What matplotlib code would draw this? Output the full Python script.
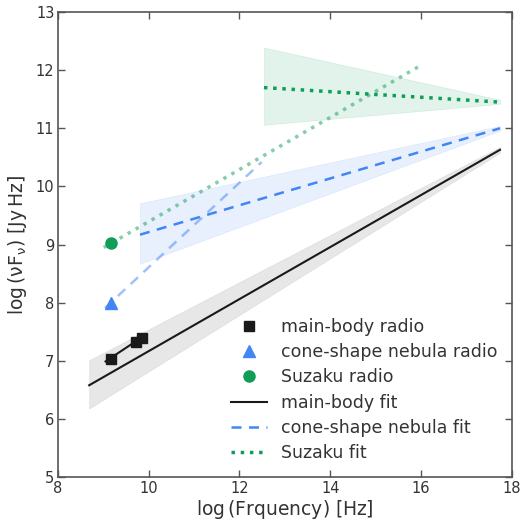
import matplotlib
matplotlib.use("Agg")
import matplotlib.pyplot as plt
import numpy as np

plt.rcParams['font.family'] = ['DejaVu Sans']
plt.rcParams['mathtext.default'] = 'regular'

# data
mb_x = [9.17, 9.72, 9.86]
mb_y = [7.04, 7.33, 7.40]
mb_seg_x = [9.05, 9.9]
mb_seg_y = [6.99, 7.43]

cn_x = [9.17]
cn_y = [8.0]
cn_seg_x = [9.04, 12.49]
cn_seg_y = [7.91, 10.42]

sz_x = [9.17]
sz_y = [9.02]
sz_seg_x = [9.01, 15.97]
sz_seg_y = [8.95, 12.07]

mb_fit_x = [8.69, 17.74]
mb_fit_y = [6.58, 10.63]
mb_band_lo = [6.18, 10.58]
mb_band_hi = [7.01, 10.68]

cn_fit_x = [9.81, 17.74]
cn_fit_y = [9.17, 11.0]
cn_band_lo = [8.67, 10.96]
cn_band_hi = [9.71, 11.04]

sz_fit_x = [12.54, 17.74]
sz_fit_y = [11.70, 11.45]
sz_band_lo = [11.06, 11.42]
sz_band_hi = [12.39, 11.49]

black = '#1a1a1a'
blue = '#4285F4'
green = '#0F9D58'
txt = '#333333'

fig = plt.figure(figsize=(5.26, 5.22), dpi=100)
ax = fig.add_axes([0.110, 0.086, 0.863, 0.891])

ax.fill_between(mb_fit_x, mb_band_lo, mb_band_hi, color='#bbbbbb', alpha=0.35, lw=0.5)
ax.fill_between(cn_fit_x, cn_band_lo, cn_band_hi, color=blue, alpha=0.12, lw=0.5)
ax.fill_between(sz_fit_x, sz_band_lo, sz_band_hi, color=green, alpha=0.12, lw=0.5)

ax.plot(cn_seg_x, cn_seg_y, ls='--', color=blue, alpha=0.5, lw=1.8, dashes=(4, 3))
ax.plot(sz_seg_x, sz_seg_y, ls=':', color=green, alpha=0.5, lw=2.5)
ax.plot(mb_seg_x, mb_seg_y, '-', color=black, lw=1.5)

ax.plot(mb_x, mb_y, 's', color=black, ms=7.5, label='main-body radio', ls='none')
ax.plot(cn_x, cn_y, '^', color=blue, ms=9, label='cone-shape nebula radio', ls='none')
ax.plot(sz_x, sz_y, 'o', color=green, ms=8, label='Suzaku radio', ls='none')

ax.plot(mb_fit_x, mb_fit_y, '-', color=black, lw=1.5, label='main-body fit')
ax.plot(cn_fit_x, cn_fit_y, '--', color=blue, lw=1.8, dashes=(4, 3), label='cone-shape nebula fit')
ax.plot(sz_fit_x, sz_fit_y, ':', color=green, lw=2.5, label='Suzaku fit')

ax.set_xlim(8, 18)
ax.set_ylim(5, 13)
ax.set_xticks([8, 10, 12, 14, 16, 18])
ax.set_yticks([5, 6, 7, 8, 9, 10, 11, 12, 13])
ax.tick_params(direction='in', length=5, width=1, top=True, right=True,
               colors='#555555', labelcolor=txt, labelsize=10.5, pad=2.5)
for s in ax.spines.values():
    s.set_color('#555555')
    s.set_linewidth(1.2)

ax.set_xlabel(r'log$\,$(Frquency) [Hz]', fontsize=13.5, color=txt, labelpad=2)
ax.set_ylabel(r'log$\,(\nu F_\nu)$ [Jy$\,$Hz]', fontsize=13.5, color=txt, labelpad=5)

leg = ax.legend(loc='lower right', frameon=False, fontsize=12.5, labelcolor=txt,
                handlelength=2.05, borderaxespad=0.45, labelspacing=0.42,
                handletextpad=0.8)

fig.savefig('out.png', dpi=100)
